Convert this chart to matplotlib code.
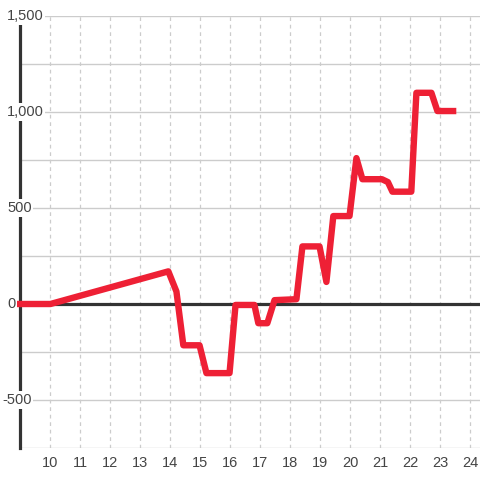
import matplotlib
matplotlib.use("Agg")
import matplotlib.pyplot as plt
from matplotlib.transforms import blended_transform_factory

# data
xs = [8.88, 10.0, 13.93, 14.2, 14.43, 14.97, 15.2, 15.97, 16.17, 16.8, 16.93,
      17.23, 17.47, 18.2, 18.4, 18.97, 19.2, 19.43, 19.97, 20.2, 20.4, 21.05,
      21.25, 21.4, 22.03, 22.2, 22.7, 22.9, 23.53]
ys = [0, 0, 170, 65, -215, -215, -360, -360, -5, -5, -100,
      -100, 20, 25, 300, 300, 115, 458, 458, 760, 650, 650,
      635, 585, 585, 1100, 1100, 1005, 1005]
x_ticks = list(range(10, 25))
y_ticks = [1500, 1000, 500, 0, -500]
y_labels = ["1,500", "1,000", "500", "0", "-500"]

plt.rcParams["font.family"] = ["Liberation Sans", "DejaVu Sans"]

fig = plt.figure(figsize=(4.8, 4.8), dpi=100)
ax = fig.add_axes([20 / 480, 1 - 448 / 480, 460 / 480, 432 / 480])
ax.set_xlim(8.985, 24.32)
ax.set_ylim(-750, 1500)

# grid
for v in range(-750, 1501, 250):
    ax.axhline(v, color="#cccccc", lw=1, zorder=1)
for v in x_ticks:
    ax.axvline(v, color="#cccccc", lw=0.9, ls=(0, (3, 3)), zorder=1)
ax.axhline(0, color="#333333", lw=2.3, zorder=2)

for s in ["top", "right", "bottom"]:
    ax.spines[s].set_visible(False)
ax.spines["left"].set_color("#333333")
ax.spines["left"].set_linewidth(2.3)
ax.spines["left"].set_zorder(2)

ax.plot(xs, ys, color="#ee2035", lw=4.6, solid_joinstyle="round",
        solid_capstyle="butt", zorder=3, clip_on=False)

ax.set_yticks([])
ax.set_xticks(x_ticks)
ax.set_xticklabels([str(t) for t in x_ticks], fontsize=10.5, color="#444444")
ax.tick_params(axis="x", length=0, pad=6)

# y labels sit over the spine, left aligned near the figure edge
tr = blended_transform_factory(fig.transFigure, ax.transData)
for v, lab in zip(y_ticks, y_labels):
    x0 = 2 if lab.startswith("-") else 7
    ax.text(x0 / 480, v, lab, ha="left", va="center", fontsize=10.5,
            color="#444444", zorder=5, clip_on=False, transform=tr,
            bbox=dict(facecolor="white", edgecolor="none", pad=1.2))

fig.savefig("out.png", dpi=100)
